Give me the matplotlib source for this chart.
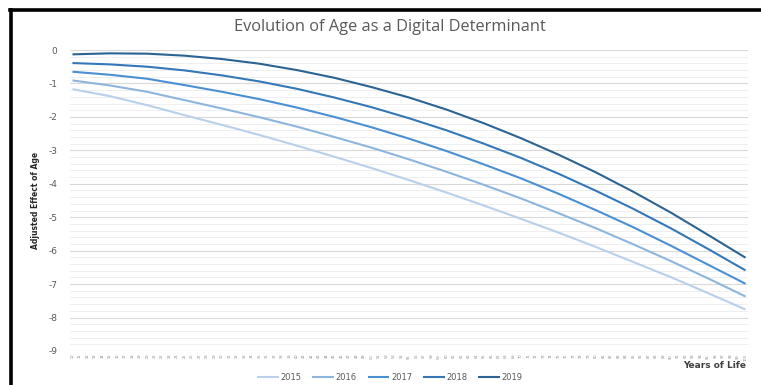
import matplotlib
matplotlib.use("Agg")
import matplotlib.pyplot as plt
from matplotlib.lines import Line2D
from matplotlib.ticker import MultipleLocator

# ---- data ----
ages = [10, 15, 20, 25, 30, 35, 40, 45, 50, 55, 60, 65, 70, 75, 80, 85, 90, 95, 100]
y2015 = [-1.17, -1.38, -1.65, -1.95, -2.24, -2.54, -2.86, -3.19, -3.53, -3.89,
         -4.26, -4.65, -5.05, -5.46, -5.89, -6.34, -6.79, -7.27, -7.76]
y2016 = [-0.91, -1.06, -1.25, -1.50, -1.75, -2.01, -2.29, -2.60, -2.92, -3.27,
         -3.64, -4.03, -4.44, -4.88, -5.33, -5.81, -6.31, -6.83, -7.37]
y2017 = [-0.65, -0.74, -0.86, -1.05, -1.25, -1.47, -1.72, -2.00, -2.31, -2.65,
         -3.02, -3.42, -3.84, -4.30, -4.79, -5.30, -5.85, -6.42, -6.99]
y2018 = [-0.39, -0.43, -0.50, -0.61, -0.76, -0.94, -1.16, -1.42, -1.71, -2.04,
         -2.40, -2.80, -3.23, -3.70, -4.21, -4.75, -5.33, -5.95, -6.59]
y2019 = [-0.13, -0.10, -0.11, -0.17, -0.27, -0.41, -0.60, -0.83, -1.11, -1.42,
         -1.78, -2.19, -2.64, -3.13, -3.66, -4.24, -4.86, -5.53, -6.21]
series_names = ["2015", "2016", "2017", "2018", "2019"]
tick_ages = list(range(10, 101))
y_ticks = [0, -1, -2, -3, -4, -5, -6, -7, -8, -9]

colors = ["#B8D0EA", "#8DB5DE", "#4A90D2", "#3478B8", "#2B6393"]

W, H = 761, 385
fig = plt.figure(figsize=(W / 100, H / 100), dpi=100)
fig.patch.set_facecolor("white")

def fx(px):
    return px / W

def fy(py):
    return 1 - py / H

ax = fig.add_axes([fx(70), fy(351), fx(748) - fx(70), fy(50) - fy(351)])
for name, ys, c in zip(series_names, [y2015, y2016, y2017, y2018, y2019], colors):
    ax.plot(ages, ys, color=c, lw=1.5, label=name, solid_capstyle="butt")

ax.set_xlim(9.67, 100.33)
ax.set_ylim(-9, 0)
ax.set_yticks(y_ticks)
ax.set_yticklabels([str(v) for v in y_ticks], fontsize=6.5, color="#595959")
ax.yaxis.set_minor_locator(MultipleLocator(0.2))
ax.grid(which="major", axis="y", color="#D9D9D9", lw=0.8)
ax.grid(which="minor", axis="y", color="#EFEFEF", lw=0.7)
ax.set_axisbelow(True)
ax.set_xticks(tick_ages)
ax.set_xticklabels([str(a) for a in tick_ages], rotation=90, fontsize=2.6, color="#8C8C8C")
ax.tick_params(axis="both", which="both", length=0)
ax.tick_params(axis="y", pad=9)
ax.tick_params(axis="x", pad=2)
for s in ax.spines.values():
    s.set_visible(False)
ax.set_facecolor("white")

fig.text(fx(390), fy(27), "Evolution of Age as a Digital Determinant", ha="center",
         va="center", fontsize=11.8, color="#595959", family="Open Sans")
fig.text(fx(35), fy(200), "Adjusted Effect of Age", rotation=90, ha="center", va="center",
         fontsize=5.5, fontweight="bold", color="#262626")
fig.text(fx(746), fy(366), "Years of Life", ha="right", va="center", fontsize=6.5,
         fontweight="bold", color="#404040")

leg = fig.legend(loc="center", bbox_to_anchor=(fx(390), fy(377)), ncol=5, frameon=False,
                 fontsize=6, handlelength=2.6, columnspacing=1.3, handletextpad=0.2)
for t in leg.get_texts():
    t.set_color("#595959")

# outer chart border (partially cropped in the reference)
fig.add_artist(Line2D([fx(11), fx(11)], [0, fy(9.5)], color="black", lw=2.6, transform=fig.transFigure))
fig.add_artist(Line2D([fx(10), 1], [fy(9.5), fy(9.5)], color="black", lw=2.6, transform=fig.transFigure))

fig.savefig("out.png", dpi=100, facecolor="white")
